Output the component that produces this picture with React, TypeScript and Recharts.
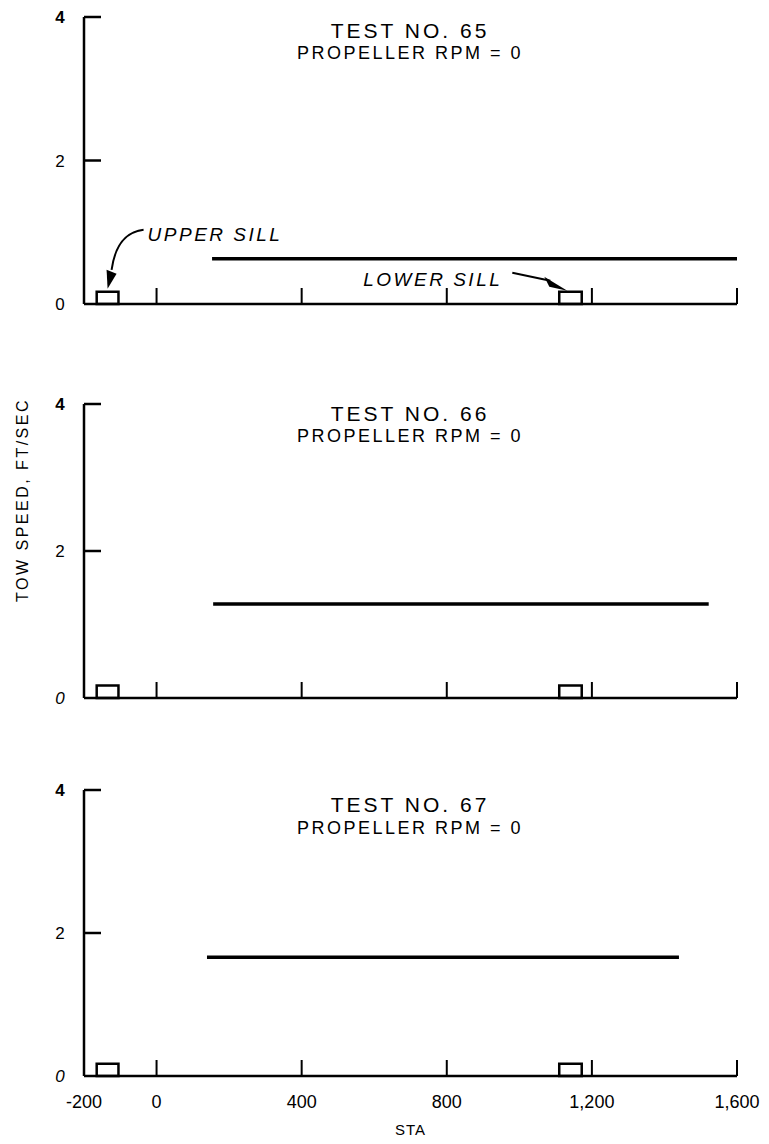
import React from 'react';
import { LineChart, Line, XAxis, YAxis, ReferenceArea, ReferenceDot } from 'recharts';

// ---- data ----
const STA_TICKS = [-200, 0, 400, 800, 1200, 1600];
const STA_TICK_LABELS = ['-200', '0', '400', '800', '1,200', '1,600'];
const SPEED_TICKS = [0, 2, 4];
const SPEED_TICK_LABELS = ['0', '2', '4'];

const TEST_TITLES = ['TEST NO. 65', 'TEST NO. 66', 'TEST NO. 67'];
const RPM_LABELS = ['PROPELLER RPM = 0', 'PROPELLER RPM = 0', 'PROPELLER RPM = 0'];

const TEST65_STA = [153, 1600];
const TEST65_SPEED = [0.63, 0.63];
const TEST66_STA = [156, 1522];
const TEST66_SPEED = [1.28, 1.28];
const TEST67_STA = [139, 1440];
const TEST67_SPEED = [1.66, 1.66];

const UPPER_SILL_STA = [-165, -105];
const LOWER_SILL_STA = [1110, 1172];
const SILL_SPEED = [0, 0.17];
const UPPER_ARROW_STA = -135;
const LOWER_ARROW_STA = 1135;

const toRows = (sta: number[], speed: number[]) => sta.map((s, i) => ({ sta: s, speed: speed[i] }));
const SERIES = [toRows(TEST65_STA, TEST65_SPEED), toRows(TEST66_STA, TEST66_SPEED), toRows(TEST67_STA, TEST67_SPEED)];

const FONT = '"Liberation Sans", Arial, Helvetica, sans-serif';

// ---- layout (page pixels) ----
const PANELS = [
  { top: 0, height: 380, margin: { top: 17, right: 32, bottom: 56, left: 0 }, xh: 20 },
  { top: 380, height: 400, margin: { top: 24, right: 32, bottom: 62, left: 0 }, xh: 20 },
  { top: 780, height: 364, margin: { top: 10, right: 32, bottom: 8, left: 0 }, xh: 60 },
];
const TITLE_Y = [[30, 53], [413, 436], [804, 828]];

const makeXTick = (showLabels: boolean) => (props: any) => {
  const { x, y, payload } = props;
  const v = payload.value;
  const idx = STA_TICKS.indexOf(v);
  return (
    <g>
      {v !== -200 && <line x1={x} x2={x} y1={y} y2={y - 16} stroke="#000" strokeWidth={2} />}
      {showLabels && (
        <text x={x} y={y + 32} textAnchor="middle" fontFamily={FONT} fontSize={18} fill="#000">
          {STA_TICK_LABELS[idx]}
        </text>
      )}
    </g>
  );
};

const makeYTick = (italicZero: boolean) => (props: any) => {
  const { x, y, payload } = props;
  const v = payload.value;
  const idx = SPEED_TICKS.indexOf(v);
  return (
    <g>
      {v !== 0 && <line x1={x} x2={x + 17} y1={y} y2={y} stroke="#000" strokeWidth={2.5} />}
      <text
        x={x - 24}
        y={y + 6}
        textAnchor="middle"
        fontFamily={FONT}
        fontSize={17}
        fontWeight={v === 4 ? 700 : 400}
        fontStyle={italicZero && v === 0 ? 'italic' : 'normal'}
        fill="#000"
      >
        {SPEED_TICK_LABELS[idx]}
      </text>
    </g>
  );
};

const UpperNote = (p: any) => {
  const { cx, cy } = p;
  return (
    <g>
      <text x={cx + 40} y={cy - 51} fontFamily={FONT} fontSize={19} fontStyle="italic" letterSpacing={2.5} fill="#000">
        UPPER SILL
      </text>
      <path
        d={`M ${cx + 36} ${cy - 62} C ${cx + 20} ${cy - 60} ${cx + 8} ${cy - 50} ${cx + 4} ${cy - 22}`}
        fill="none"
        stroke="#000"
        strokeWidth={2}
      />
      <polygon points={`${cx},${cy - 3} ${cx - 1},${cy - 22} ${cx + 9},${cy - 18}`} fill="#000" />
    </g>
  );
};

const LowerNote = (p: any) => {
  const { cx, cy } = p;
  return (
    <g>
      <text x={cx - 66} y={cy - 6} textAnchor="end" fontFamily={FONT} fontSize={19} fontStyle="italic" letterSpacing={2.5} fill="#000">
        LOWER SILL
      </text>
      <path d={`M ${cx - 56} ${cy - 19} L ${cx - 18} ${cy - 11}`} fill="none" stroke="#000" strokeWidth={2} />
      <polygon points={`${cx - 1},${cy - 1} ${cx - 24},${cy - 15} ${cx - 19},${cy - 5}`} fill="#000" />
    </g>
  );
};

const Panel = ({ i }: { i: number }) => {
  const cfg = PANELS[i];
  const last = i === PANELS.length - 1;
  return (
    <div style={{ position: 'absolute', left: 0, top: cfg.top, width: 769, height: cfg.height }}>
      <LineChart width={769} height={cfg.height} margin={cfg.margin}>
        <XAxis
          dataKey="sta"
          type="number"
          domain={[-200, 1600]}
          ticks={STA_TICKS}
          interval={0}
          height={cfg.xh}
          tickSize={0}
          tickMargin={0}
          tickLine={false}
          axisLine={{ stroke: '#000', strokeWidth: 2.5 }}
          tick={makeXTick(last)}
          label={
            last
              ? { value: 'STA', position: 'insideBottom', offset: 1, fontFamily: FONT, fontSize: 15, fill: '#000', letterSpacing: 1 }
              : undefined
          }
        />
        <YAxis
          type="number"
          domain={[0, 4]}
          ticks={SPEED_TICKS}
          interval={0}
          width={84}
          tickSize={0}
          tickMargin={0}
          tickLine={false}
          axisLine={{ stroke: '#000', strokeWidth: 2.5 }}
          tick={makeYTick(i > 0)}
        />
        <ReferenceArea
          x1={UPPER_SILL_STA[0]}
          x2={UPPER_SILL_STA[1]}
          y1={SILL_SPEED[0]}
          y2={SILL_SPEED[1]}
          fill="none"
          fillOpacity={0}
          stroke="#000"
          strokeWidth={2.5}
          ifOverflow="visible"
        />
        <ReferenceArea
          x1={LOWER_SILL_STA[0]}
          x2={LOWER_SILL_STA[1]}
          y1={SILL_SPEED[0]}
          y2={SILL_SPEED[1]}
          fill="none"
          fillOpacity={0}
          stroke="#000"
          strokeWidth={2.5}
          ifOverflow="visible"
        />
        <Line
          data={SERIES[i]}
          dataKey="speed"
          type="linear"
          stroke="#000"
          strokeWidth={3.5}
          dot={false}
          activeDot={false}
          isAnimationActive={false}
        />
        {i === 0 && (
          <ReferenceDot x={UPPER_ARROW_STA} y={SILL_SPEED[1]} ifOverflow="visible" shape={(p: any) => <UpperNote {...p} />} />
        )}
        {i === 0 && (
          <ReferenceDot x={LOWER_ARROW_STA} y={SILL_SPEED[1]} ifOverflow="visible" shape={(p: any) => <LowerNote {...p} />} />
        )}
      </LineChart>
    </div>
  );
};

export default function App() {
  return (
    <div style={{ position: 'absolute', left: 0, top: 0, width: 769, height: 1144, background: '#fff', fontFamily: FONT }}>
      {PANELS.map((_, i) => (
        <Panel key={i} i={i} />
      ))}
      <svg width={769} height={1144} style={{ position: 'absolute', left: 0, top: 0, pointerEvents: 'none' }}>
        {TEST_TITLES.map((t, i) => (
          <g key={i}>
            <text x={410} y={TITLE_Y[i][0]} dominantBaseline="central" textAnchor="middle" fontFamily={FONT} fontSize={21} letterSpacing={3} fill="#000">
              {t}
            </text>
            <text x={410} y={TITLE_Y[i][1]} dominantBaseline="central" textAnchor="middle" fontFamily={FONT} fontSize={18} letterSpacing={2.5} fill="#000">
              {RPM_LABELS[i]}
            </text>
          </g>
        ))}
        <text
          x={0}
          y={0}
          transform="translate(22,500) rotate(-90)"
          dominantBaseline="central"
          textAnchor="middle"
          fontFamily={FONT}
          fontSize={16}
          letterSpacing={2.5}
          fill="#000"
        >
          TOW SPEED, FT/SEC
        </text>
      </svg>
    </div>
  );
}
